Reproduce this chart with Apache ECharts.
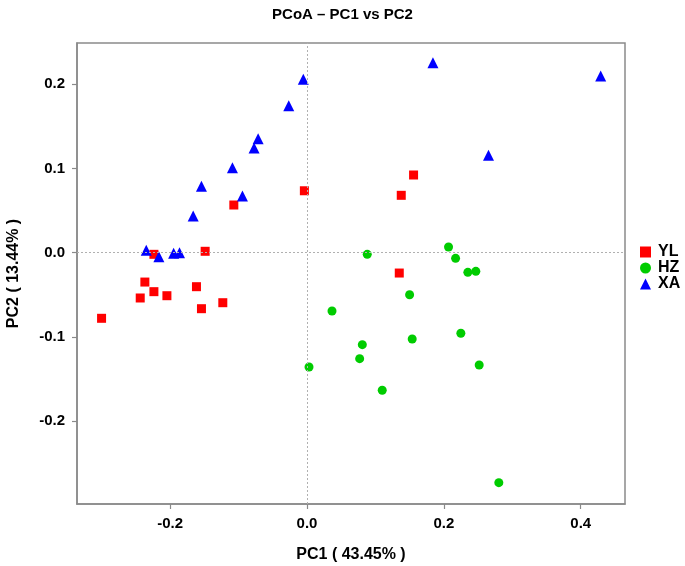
<!DOCTYPE html>
<html>
<head>
<meta charset="utf-8">
<script src="https://cdn.jsdelivr.net/npm/echarts@6/dist/echarts.min.js"></script>
<style>html,body{margin:0;padding:0;background:#fff}#c{width:685px;height:566px}</style>
</head>
<body>
<div id="c"></div>
<script>
const seriesNames = ['YL', 'HZ', 'XA'];
const ylPoints = [
  [-0.0039, 0.0735], [-0.107, 0.0566], [-0.2238, -0.0019], [-0.1489, 0.0017],
  [-0.237, -0.0348], [-0.2238, -0.0462], [-0.2438, -0.0537], [-0.2048, -0.051],
  [-0.1616, -0.0403], [-0.1543, -0.0664], [-0.1231, -0.0593], [-0.3003, -0.0778],
  [0.1557, 0.0922], [0.1377, 0.0681], [0.1348, -0.0241]
];
const hzPoints = [
  [0.2068, 0.0068], [0.088, -0.0019], [0.2171, -0.0067], [0.235, -0.0233],
  [0.2467, -0.0221], [0.1499, -0.0498], [0.0365, -0.0692], [0.2248, -0.0956],
  [0.1537, -0.1024], [0.0808, -0.1091], [0.0769, -0.1257], [0.0029, -0.1356],
  [0.2516, -0.1332], [0.1099, -0.1632], [0.2803, -0.2728]
];
const xaPoints = [
  [-0.0054, 0.2057], [-0.0267, 0.1744], [-0.0715, 0.1352], [-0.0774, 0.1242],
  [-0.109, 0.1008], [-0.1543, 0.0788], [-0.0944, 0.0673], [-0.1664, 0.0435],
  [-0.235, 0.0028], [-0.2165, -0.0047], [-0.195, -0.0007], [-0.1864, 0.0],
  [0.184, 0.2254], [0.4292, 0.2096], [0.2652, 0.1155]
];
const xTicks = [-0.2, 0.0, 0.2, 0.4];
const yTicks = [-0.2, -0.1, 0.0, 0.1, 0.2];

const FONT = 'Liberation Sans, Arial, sans-serif';
const GREY = '#8a8a8a';
const chart = echarts.init(document.getElementById('c'));
chart.setOption({
  animation: false,
  backgroundColor: '#fff',
  title: {
    text: 'PCoA \u2013 PC1 vs PC2', left: 'center', top: 2,
    textStyle: { fontFamily: FONT, fontWeight: 'bold', fontSize: 15, color: '#000' }
  },
  legend: {
    orient: 'vertical', left: 640, top: 244, itemGap: 0, padding: 0,
    itemWidth: 11, itemHeight: 11,
    data: seriesNames,
    textStyle: { fontFamily: FONT, fontWeight: 'bold', fontSize: 16, color: '#000', lineHeight: 15, padding: [0, 0, 0, 2] }
  },
  grid: { left: 77, right: 60, top: 43, bottom: 62, outerBoundsMode: 'none', containLabel: false,
    show: true, borderColor: GREY, borderWidth: 1.5, backgroundColor: 'transparent' },
  xAxis: {
    type: 'value', min: -0.3362, max: 0.4647,
    name: 'PC1 ( 43.45% )', nameLocation: 'middle', nameGap: 43,
    nameTextStyle: { fontFamily: FONT, fontWeight: 'bold', fontSize: 16, color: '#000' },
    axisLine: { show: true, onZero: false, lineStyle: { color: GREY, width: 1.5 } },
    splitLine: { show: false },
    axisTick: { show: true, inside: false, length: 5, lineStyle: { color: GREY, width: 1.2 }, customValues: xTicks },
    axisLabel: { margin: 12, fontFamily: FONT, fontWeight: 'bold', fontSize: 15, color: '#000',
      customValues: xTicks, formatter: v => v.toFixed(1) }
  },
  yAxis: {
    type: 'value', min: -0.2981, max: 0.2488,
    name: 'PC2 ( 13.44% )', nameLocation: 'middle', nameGap: 55, nameRotate: 90,
    nameTextStyle: { fontFamily: FONT, fontWeight: 'bold', fontSize: 16, color: '#000' },
    axisLine: { show: true, onZero: false, lineStyle: { color: GREY, width: 1.5 } },
    splitLine: { show: false },
    axisTick: { show: true, inside: false, length: 5, lineStyle: { color: GREY, width: 1.2 }, customValues: yTicks },
    axisLabel: { margin: 12, fontFamily: FONT, fontWeight: 'bold', fontSize: 15, color: '#000',
      customValues: yTicks, formatter: v => v.toFixed(1) }
  },
  series: [
    {
      type: 'scatter', name: '_ref', data: [], z: 1, silent: true,
      markLine: {
        silent: true, symbol: 'none', animation: false,
        label: { show: false },
        lineStyle: { type: [2, 2], color: '#b0b0b0', width: 1 },
        data: [{ xAxis: 0 }, { yAxis: 0 }]
      }
    },
    { type: 'scatter', name: 'YL', data: ylPoints, symbol: 'rect', symbolSize: 9, itemStyle: { color: '#ff0000', opacity: 1 }, z: 3 },
    { type: 'scatter', name: 'HZ', data: hzPoints, symbol: 'circle', symbolSize: 9, itemStyle: { color: '#00cc00', opacity: 1 }, z: 3 },
    { type: 'scatter', name: 'XA', data: xaPoints, symbol: 'triangle', symbolSize: 11, itemStyle: { color: '#0000ff', opacity: 1 }, z: 3 }
  ]
});
</script>
</body>
</html>
